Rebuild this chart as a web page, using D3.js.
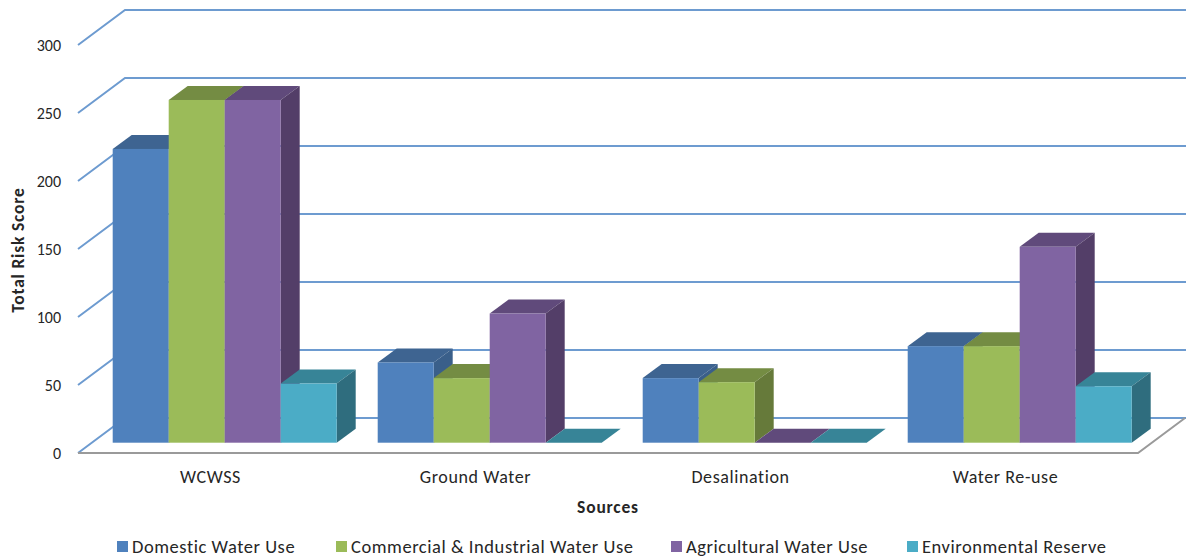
<!DOCTYPE html>
<html><head><meta charset="utf-8">
<style>html,body{margin:0;padding:0;background:#fff;overflow:hidden}svg{display:block}
text{font-family:Carlito,Lato,"Open Sans",sans-serif;fill:#262626}</style>
<script src="https://cdn.jsdelivr.net/npm/d3@7"></script>
</head><body><svg id="c" width="1187" height="558"></svg>
<script>
const categories = ["WCWSS","Ground Water","Desalination","Water Re-use"];
const seriesNames = ["Domestic Water Use","Commercial & Industrial Water Use","Agricultural Water Use","Environmental Reserve"];
const domestic = [216,59,47.5,71];
const commercial = [252,47.5,44.5,71];
const agricultural = [252,95,0,144];
const environmental = [43.5,0,0,41.5];
const yTicks = [0,50,100,150,200,250,300];
const frontColors = ["#4F81BD","#9BBB59","#8064A2","#4BACC6"];
const topColors = ["#3E6491","#748C43","#604A7B","#378497"];
const sideColors = ["#3A5F8A","#667A3A","#533E68","#2F6D7E"];
const legendX = [117,336,671,907];
const series = [domestic,commercial,agricultural,environmental];

const svg = d3.select("#c");
const x = d3.scaleBand().domain(categories).range([78,1138]);
const y = d3.scaleLinear().domain([0,300]).range([453,45]);
const wall = {dx:47,dy:-35}, bar = {dx:19,dy:-14,w:56,lead:34.7,base:-10.3};
const gridC = "#6D9BD0";

const g = svg.append("g");
yTicks.forEach(t=>{
  g.append("path").attr("fill","none").attr("stroke",gridC).attr("stroke-width",2)
   .attr("d",d3.line()([[x.range()[0],y(t)],[x.range()[0]+wall.dx,y(t)+wall.dy],[x.range()[1]+wall.dx+1,y(t)+wall.dy]]));
});
g.append("path").attr("fill","none").attr("stroke","#9a9a9a").attr("stroke-width",2)
 .attr("d",d3.line()([[x.range()[0],y(0)],[x.range()[1],y(0)],[x.range()[1]+wall.dx,y(0)+wall.dy]]));

categories.forEach((c,ci)=>{
  series.forEach((s,si)=>{
    const x0 = x(c)+bar.lead+si*bar.w, x1 = x0+bar.w;
    const yb = y(0)+bar.base, yt = y(s[ci])+bar.base;
    const b = g.append("g");
    b.append("path").attr("fill",topColors[si])
     .attr("d",d3.line()([[x0,yt],[x1,yt],[x1+bar.dx,yt+bar.dy],[x0+bar.dx,yt+bar.dy]])+"Z");
    if(s[ci]>0){
      b.append("path").attr("fill",sideColors[si])
       .attr("d",d3.line()([[x1,yt],[x1+bar.dx,yt+bar.dy],[x1+bar.dx,yb+bar.dy],[x1,yb]])+"Z");
      b.append("rect").attr("x",x0).attr("y",yt).attr("width",bar.w).attr("height",yb-yt)
       .attr("fill",frontColors[si]);
    }
  });
});

const ya = svg.append("g").attr("transform","translate(61,0)")
  .call(d3.axisLeft(y).tickValues(yTicks).tickSize(0).tickPadding(0));
ya.select(".domain").remove();
ya.selectAll("text").style("font-size","16px").style("font-family",'Carlito,Lato,sans-serif').attr("fill","#262626");
const xa = svg.append("g").attr("transform","translate(0,470)")
  .call(d3.axisBottom(x).tickSize(0).tickPadding(0));
xa.select(".domain").remove();
xa.selectAll("text").style("font-size","18px").style("letter-spacing","0.6px").style("font-family",'Carlito,Lato,sans-serif').attr("fill","#262626");

svg.append("text").attr("transform","translate(24,250) rotate(-90)").attr("text-anchor","middle")
   .style("font-size","17.5px").style("letter-spacing","0.8px").style("font-weight","700").text("Total Risk Score");
svg.append("text").attr("x",608).attr("y",513).attr("text-anchor","middle")
   .style("font-size","17.5px").style("letter-spacing","0.8px").style("font-weight","700").text("Sources");

seriesNames.forEach((n,i)=>{
  svg.append("rect").attr("x",legendX[i]).attr("y",541).attr("width",11).attr("height",11).attr("fill",frontColors[i]);
  svg.append("text").attr("x",legendX[i]+15).attr("y",552.5).style("font-size","18.5px").style("letter-spacing","0.55px").text(n);
});
</script></body></html>
